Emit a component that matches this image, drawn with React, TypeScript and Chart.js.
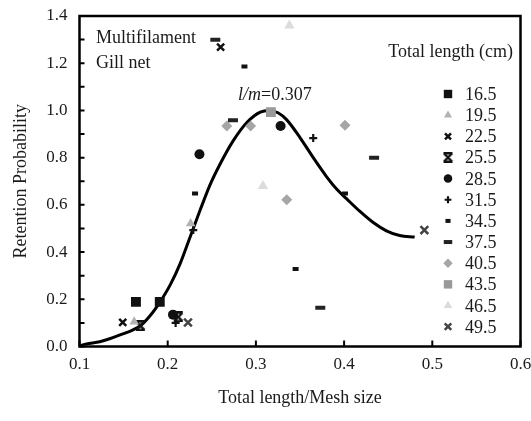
import React, { useEffect, useRef } from 'react';
import { Chart, registerables } from 'chart.js';
import { drawPoint } from 'chart.js/helpers';

Chart.register(...registerables);

// ---- axis ticks ----
const xTicks = [0.1, 0.2, 0.3, 0.4, 0.5, 0.6];
const yTicks = [0.0, 0.2, 0.4, 0.6, 0.8, 1.0, 1.2, 1.4];
const yMinorTicks = [0.1, 0.3, 0.5, 0.7, 0.9, 1.1, 1.3];

// ---- series (Total length, cm) ----
const seriesLabels = ['16.5', '19.5', '22.5', '25.5', '28.5', '31.5', '34.5', '37.5', '40.5', '43.5', '46.5', '49.5'];

const s165x = [0.164, 0.191];
const s165y = [0.189, 0.189];
const s195x = [0.162, 0.226];
const s195y = [0.105, 0.521];
const s225x = [0.149, 0.26];
const s225y = [0.102, 1.268];
const s255x = [0.169, 0.212];
const s255y = [0.088, 0.125];
const s285x = [0.206, 0.236, 0.328];
const s285y = [0.135, 0.814, 0.934];
const s315x = [0.209, 0.229, 0.365];
const s315y = [0.1, 0.493, 0.883];
const s345x = [0.231, 0.287, 0.345, 0.401];
const s345y = [0.648, 1.186, 0.328, 0.648];
const s375x = [0.254, 0.274, 0.373, 0.434];
const s375y = [1.299, 0.958, 0.164, 0.8];
const s405x = [0.267, 0.294, 0.335, 0.401];
const s405y = [0.934, 0.934, 0.622, 0.937];
const s435x = [0.317];
const s435y = [0.993];
const s465x = [0.308, 0.338];
const s465y = [0.68, 1.36];
const s495x = [0.223, 0.491];
const s495y = [0.102, 0.493];

const seriesX = [s165x, s195x, s225x, s255x, s285x, s315x, s345x, s375x, s405x, s435x, s465x, s495x];
const seriesY = [s165y, s195y, s225y, s255y, s285y, s315y, s345y, s375y, s405y, s435y, s465y, s495y];

// ---- fitted retention curve ----
const curveX = [0.1, 0.108, 0.123, 0.146, 0.169, 0.18, 0.191, 0.203, 0.214, 0.225, 0.237, 0.248, 0.259, 0.274, 0.29, 0.305, 0.315, 0.325, 0.335, 0.35, 0.365, 0.38, 0.392, 0.403, 0.418, 0.433, 0.448, 0.463, 0.48];
const curveY = [0.003, 0.011, 0.02, 0.049, 0.088, 0.13, 0.187, 0.262, 0.35, 0.46, 0.58, 0.685, 0.77, 0.87, 0.95, 0.993, 1.0, 0.99, 0.96, 0.885, 0.8, 0.72, 0.665, 0.625, 0.572, 0.525, 0.49, 0.47, 0.464];

const FONT = "'Liberation Serif', 'Times New Roman', serif";

function makeStar(color: string): HTMLCanvasElement {
  const c = document.createElement('canvas');
  c.width = 11;
  c.height = 11;
  const g = c.getContext('2d')!;
  g.strokeStyle = color;
  g.lineWidth = 2.4;
  g.lineCap = 'butt';
  g.beginPath();
  g.moveTo(1.5, 1.5); g.lineTo(9.5, 9.5);
  g.moveTo(9.5, 1.5); g.lineTo(1.5, 9.5);
  g.moveTo(1, 1.2); g.lineTo(10, 1.2);
  g.moveTo(1, 9.8); g.lineTo(10, 9.8);
  g.stroke();
  return c;
}

export default function App() {
  const ref = useRef<HTMLCanvasElement | null>(null);

  useEffect(() => {
    document.body.style.margin = '0';
    const canvas = ref.current!;
    const star = makeStar('#111');

    const styles: any[] = [
      { pointStyle: 'rect', radius: 7, color: '#111', bw: 0 },
      { pointStyle: 'triangle', radius: 5.5, color: '#b3b3b3', bw: 0 },
      { pointStyle: 'crossRot', radius: 5, color: '#111', bw: 2.5 },
      { pointStyle: star, radius: 5, color: '#111', bw: 0 },
      { pointStyle: 'circle', radius: 5, color: '#111', bw: 0 },
      { pointStyle: 'cross', radius: 4, color: '#111', bw: 2.2 },
      { pointStyle: 'line', radius: 3, color: '#111', bw: 4 },
      { pointStyle: 'line', radius: 5, color: '#222', bw: 4 },
      { pointStyle: 'rectRot', radius: 5.5, color: '#a6a6a6', bw: 0 },
      { pointStyle: 'rect', radius: 7, color: '#999999', bw: 0 },
      { pointStyle: 'triangle', radius: 6, color: '#dcdcdc', bw: 0 },
      { pointStyle: 'crossRot', radius: 5.5, color: '#444', bw: 2.5 },
    ];

    const datasets: any[] = seriesLabels.map((lab, i) => ({
      label: lab,
      data: seriesX[i].map((x, j) => ({ x, y: seriesY[i][j] })),
      showLine: false,
      pointStyle: styles[i].pointStyle,
      pointRadius: styles[i].radius,
      pointBackgroundColor: styles[i].color,
      pointBorderColor: styles[i].color,
      pointBorderWidth: styles[i].bw,
    }));
    datasets.push({
      label: 'curve',
      data: curveX.map((x, j) => ({ x, y: curveY[j] })),
      showLine: true,
      borderColor: '#000',
      borderWidth: 3,
      pointRadius: 0,
      cubicInterpolationMode: 'monotone',
      fill: false,
    });

    const decor = {
      id: 'decor',
      afterDraw(chart: any) {
        const ctx = chart.ctx as CanvasRenderingContext2D;
        const a = chart.chartArea;
        const xs = chart.scales.x;
        const ys = chart.scales.y;
        ctx.save();
        // ticks
        ctx.strokeStyle = '#000';
        ctx.lineWidth = 2;
        ctx.beginPath();
        xTicks.forEach((v) => {
          const px = xs.getPixelForValue(v);
          ctx.moveTo(px, a.bottom);
          ctx.lineTo(px, a.bottom - 6);
        });
        [...yTicks, ...yMinorTicks].forEach((v) => {
          const py = ys.getPixelForValue(v);
          ctx.moveTo(a.left, py);
          ctx.lineTo(a.left + 5, py);
        });
        ctx.stroke();
        // border
        ctx.lineWidth = 2.5;
        ctx.strokeRect(a.left, a.top, a.right - a.left, a.bottom - a.top);

        // annotations
        ctx.fillStyle = '#1a1a1a';
        ctx.font = `18px ${FONT}`;
        ctx.textAlign = 'left';
        ctx.textBaseline = 'alphabetic';
        ctx.fillText('Multifilament', 96, 43);
        ctx.fillText('Gill net', 96, 68);
        ctx.textAlign = 'right';
        ctx.fillText('Total length (cm)', 513, 57);
        ctx.textAlign = 'left';
        ctx.font = `italic 18px ${FONT}`;
        const lx = 238;
        ctx.fillText('l/m', lx, 100);
        const w = ctx.measureText('l/m').width;
        ctx.font = `18px ${FONT}`;
        ctx.fillText('=0.307', lx + w, 100);

        // legend
        seriesLabels.forEach((lab, i) => {
          const cy = 94 + i * 21.15;
          const st = styles[i];
          ctx.fillStyle = st.color;
          ctx.strokeStyle = st.color;
          ctx.lineWidth = st.bw;
          drawPoint(ctx, { pointStyle: st.pointStyle, radius: st.radius * 0.85, borderWidth: st.bw, rotation: 0 } as any, 448, cy);
          ctx.fillStyle = '#1a1a1a';
          ctx.font = `18px ${FONT}`;
          ctx.textAlign = 'left';
          ctx.textBaseline = 'alphabetic';
          ctx.fillText(lab, 465, cy + 6);
        });
        ctx.restore();
      },
    };

    const chart = new Chart(canvas, {
      type: 'scatter',
      data: { datasets },
      options: {
        responsive: false,
        animation: false,
        devicePixelRatio: 1,
        layout: { padding: { left: 0, top: 16, right: 10.5, bottom: 0 } },
        plugins: { legend: { display: false }, tooltip: { enabled: false } },
        scales: {
          x: {
            type: 'linear',
            min: 0.1,
            max: 0.6,
            afterBuildTicks: (s: any) => { s.ticks = xTicks.map((v) => ({ value: v })); },
            afterFit: (s: any) => { s.height = 74.5; s.paddingLeft = 0; s.paddingRight = 0; },
            grid: { display: false, drawTicks: false },
            border: { display: false },
            ticks: {
              padding: 8,
              color: '#1a1a1a',
              font: { family: FONT, size: 17 },
              callback: (v: any) => Number(v).toFixed(1),
            },
            title: {
              display: true,
              text: 'Total length/Mesh size',
              color: '#1a1a1a',
              font: { family: FONT, size: 18 },
              padding: { top: 0, bottom: 12 },
            },
          },
          y: {
            type: 'linear',
            min: 0,
            max: 1.4,
            afterBuildTicks: (s: any) => { s.ticks = yTicks.map((v) => ({ value: v })); },
            afterFit: (s: any) => { s.width = 79.5; s.paddingTop = 0; s.paddingBottom = 0; },
            grid: { display: false, drawTicks: false },
            border: { display: false },
            ticks: {
              padding: 12,
              color: '#1a1a1a',
              font: { family: FONT, size: 17 },
              callback: (v: any) => Number(v).toFixed(1),
            },
            title: {
              display: true,
              text: 'Retention Probability',
              color: '#1a1a1a',
              font: { family: FONT, size: 18 },
              padding: { top: 10, bottom: 0 },
            },
          },
        },
      },
      plugins: [decor],
    } as any);

    return () => chart.destroy();
  }, []);

  return (
    <div style={{ width: 531, height: 421 }}>
      <canvas ref={ref} width={531} height={421} />
    </div>
  );
}
